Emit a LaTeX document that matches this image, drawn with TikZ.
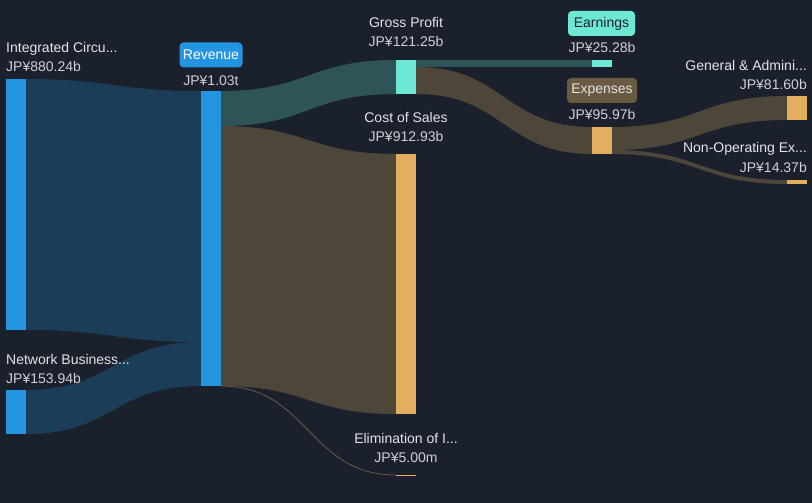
\documentclass[tikz,border=0pt]{standalone}
\usepackage{fontspec}
\setmainfont{Liberation Sans}
\definecolor{bg}{HTML}{1B212C}
\definecolor{barblue}{HTML}{2394DF}
\definecolor{flowblue}{HTML}{1C3D57}
\definecolor{barteal}{HTML}{6DE8D4}
\definecolor{flowteal}{HTML}{2F5457}
\definecolor{barorange}{HTML}{E4AE5F}
\definecolor{flowbrown}{HTML}{4E4639}
\definecolor{expbox}{HTML}{6B5A42}
\definecolor{txtname}{HTML}{E2E4E8}
\definecolor{txtval}{HTML}{CDD0D5}
\newcommand\sflow[7]{%
  \fill[#1] (#2,#3) .. controls ({(#2+#5)/2},#3) and ({(#2+#5)/2},#6) .. (#5,#6)
    -- (#5,#7) .. controls ({(#2+#5)/2},#7) and ({(#2+#5)/2},#4) .. (#2,#4) -- cycle;}
\tikzset{
  lbl/.style={font=\fontsize{14}{17}\selectfont, text=txtname, inner sep=0pt},
  val/.style={font=\fontsize{14}{17}\selectfont, text=txtval, inner sep=0pt},
  tagbox/.style={font=\fontsize{14}{17}\selectfont, rounded corners=4pt, inner sep=0pt, minimum height=25pt}
}
\begin{document}
\begin{tikzpicture}[x=1pt,y=-1pt]
\useasboundingbox (0,0) rectangle (812,503);
\fill[bg] (0,0) rectangle (812,503);
% flows
\sflow{flowblue}{26}{79}{330}{201}{91}{342}
\sflow{flowblue}{26}{390}{434}{201}{342}{386}
\sflow{flowteal}{221}{91}{126}{396}{60}{94}
\sflow{flowbrown}{221}{126}{386}{396}{154}{414}
\draw[flowbrown!80!barorange, line width=0.8pt] (221,386) .. controls (308.5,386) and (308.5,475) .. (396,475);
\sflow{flowteal}{416}{60}{67}{592}{60}{67}
\sflow{flowbrown}{416}{67}{94}{592}{127}{154}
\sflow{flowbrown}{612}{127}{150}{787}{96}{120}
\sflow{flowbrown}{612}{150}{154}{787}{180}{184}
% bars
\fill[barblue] (6,79) rectangle (26,330) coordinate (ic);
\fill[barblue] (6,390) rectangle (26,434) coordinate (nb);
\fill[barblue] (201,91) rectangle (221,386) coordinate (rev);
\fill[barteal] (396,60) rectangle (416,94) coordinate (gp);
\fill[barorange] (396,154) rectangle (416,414) coordinate (cos);
\fill[barorange] (396,474.5) rectangle (416,476) coordinate (elim);
\fill[barteal] (592,60) rectangle (612,67) coordinate (earn);
\fill[barorange] (592,127) rectangle (612,154) coordinate (exp);
\fill[barorange] (787,96) rectangle (807,120) coordinate (ga);
\fill[barorange] (787,180) rectangle (807,184) coordinate (nonop);
% labels
\node[lbl, anchor=base west] (icname) at (6,53) {Integrated Circu...};
\node[val, anchor=base west] (icval) at (6,72) {JP¥880.24b};
\node[lbl, anchor=base west] (nbname) at (6,364) {Network Business...};
\node[val, anchor=base west] (nbval) at (6,383) {JP¥153.94b};
\node[tagbox, fill=barblue, text=white, minimum width=63pt] (revtag) at (211,55) {Revenue};
\node[val, anchor=base] (revval) at (211,85) {JP¥1.03t};
\node[lbl, anchor=base] (gpname) at (406,28) {Gross Profit};
\node[val, anchor=base] (gpval) at (406,47) {JP¥121.25b};
\node[lbl, anchor=base] (cosname) at (406,123) {Cost of Sales};
\node[val, anchor=base] (cosval) at (406,142) {JP¥912.93b};
\node[lbl, anchor=base] (elname) at (406,443) {Elimination of I...};
\node[val, anchor=base] (elval) at (406,462) {JP¥5.00m};
\node[tagbox, fill=barteal, text=bg, minimum width=67pt] (earntag) at (601.5,23.5) {Earnings};
\node[val, anchor=base] (earnval) at (602,53) {JP¥25.28b};
\node[tagbox, fill=expbox, text=txtname, minimum width=70pt] (exptag) at (602,90.5) {Expenses};
\node[val, anchor=base] (expval) at (602,120) {JP¥95.97b};
\node[lbl, anchor=base east] (ganame) at (807,71) {General \& Admini...};
\node[val, anchor=base east] (gaval) at (807,89) {JP¥81.60b};
\node[lbl, anchor=base east] (nonname) at (807,153) {Non-Operating Ex...};
\node[val, anchor=base east] (nonval) at (807,172) {JP¥14.37b};
\end{tikzpicture}
\end{document}
